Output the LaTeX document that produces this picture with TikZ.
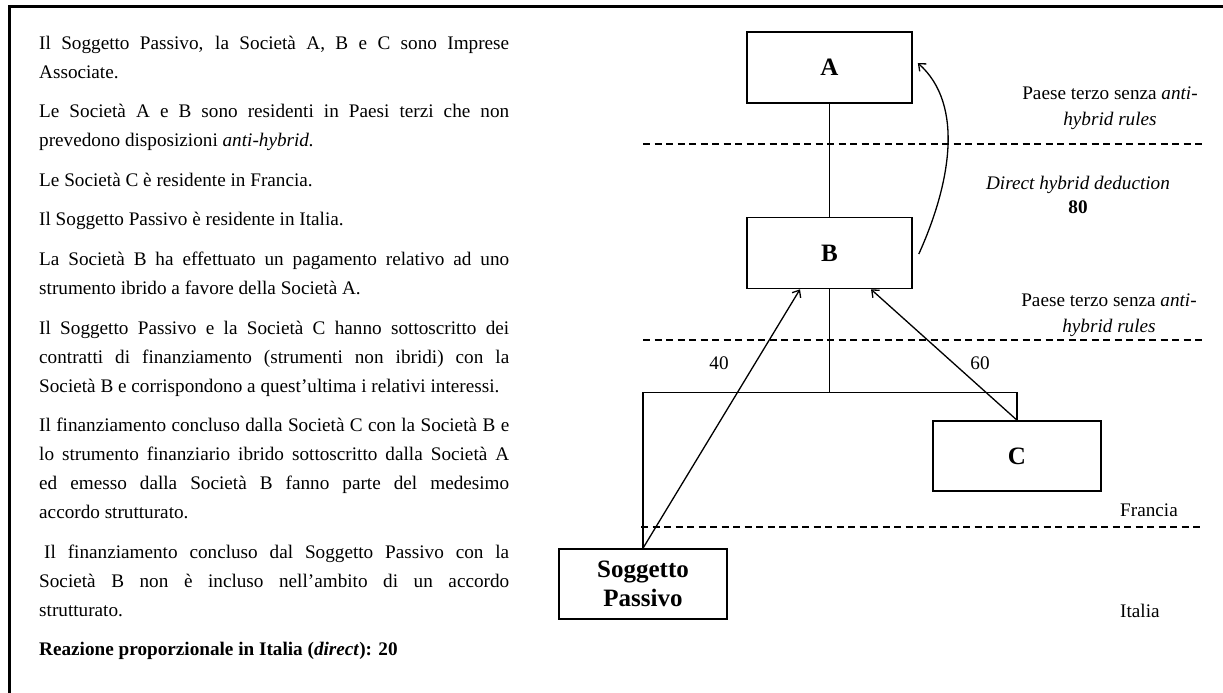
\documentclass[tikz,border=0pt]{standalone}
\usepackage{fontspec}
\setmainfont{Liberation Serif}
\usetikzlibrary{arrows.meta,calc}
\newcommand\jline[1]{\hbox to 470pt{#1}}
\newcommand\eline[1]{\hbox{#1}}
\begin{document}
\begin{tikzpicture}[x=1pt,y=-1pt,
  para/.style={anchor=base west, inner sep=0pt, font=\fontsize{19.2}{29}\selectfont},
  box/.style={draw, line width=1.6pt, inner sep=0pt, minimum width=165pt, minimum height=71pt, font=\fontsize{25}{29}\selectfont\bfseries, align=center},
  lbl/.style={inner sep=0pt, font=\fontsize{19.2}{26}\selectfont, align=center},
  conn/.style={line width=1.3pt},
  arr/.style={line width=1.3pt, -{Straight Barb[length=6pt,width=10pt]}},
  sep/.style={line width=1.4pt, dash pattern=on 7pt off 4.5pt},
]
\useasboundingbox (0,0) rectangle (1223,693);
\draw[line width=2.6pt] (9.7,693) -- (9.7,6.7) -- (1223,6.7);

% left text
\node[para] (p1) at (39,49) {\vtop{\jline{Il Soggetto Passivo, la Società A, B e C sono Imprese}\eline{Associate.}}};
\node[para] (p2) at (39,117.6) {\vtop{\jline{Le Società A e B sono residenti in Paesi terzi che non}\eline{prevedono disposizioni \textit{anti-hybrid.}}}};
\node[para] (p3) at (39,186.2) {\vtop{\eline{Le Società C è residente in Francia.}}};
\node[para] (p4) at (39,225.8) {\vtop{\eline{Il Soggetto Passivo è residente in Italia.}}};
\node[para] (p5) at (39,265.4) {\vtop{\jline{La Società B ha effettuato un pagamento relativo ad uno}\eline{strumento ibrido a favore della Società A.}}};
\node[para] (p6) at (39,334) {\vtop{\jline{Il Soggetto Passivo e la Società C hanno sottoscritto dei}\jline{contratti di finanziamento (strumenti non ibridi) con la}\eline{Società B e corrispondono a quest’ultima i relativi interessi.}}};
\node[para] (p7) at (39,431.6) {\vtop{\jline{Il finanziamento concluso dalla Società C con la Società B e}\jline{lo strumento finanziario ibrido sottoscritto dalla Società A}\jline{ed emesso dalla Società B fanno parte del medesimo}\eline{accordo strutturato.}}};
\node[para] (p8) at (39,558.2) {\vtop{\jline{\kern5pt Il finanziamento concluso dal Soggetto Passivo con la}\jline{Società B non è incluso nell’ambito di un accordo}\eline{strutturato.}}};
\node[para] (p9) at (39,655.8) {\vtop{\eline{\bfseries Reazione proporzionale in Italia (\textit{direct}): 20}}};

% separators
\draw[sep] (643,144) -- (1205,144);
\draw[sep] (643,340) -- (1205,340);
\draw[sep] (641,527) -- (1203,527);

% boxes
\node[box] (A) at (829.5,67.5) {A};
\node[box] (B) at (829.5,253) {B};
\node[box, minimum width=168pt, minimum height=70pt] (C) at (1017,456) {C};
\node[box, minimum width=168pt, minimum height=70pt] (S) at (643,584) {Soggetto\\Passivo};

% connectors
\draw[conn] (A) -- (B);
\draw[conn] (B.south) -- ++(0,103) coordinate (j);
\draw[conn] (S.north) |- (j) -| (C.north);
\draw[arr] (S.north) -- ($(B.south)+(-29.5,0)$);
\draw[arr] (C.north) -- ($(B.south)+(41.5,0)$);
\draw[arr] ($(B.east)+(6,1)$) .. controls (950,185) and (965,105) .. ($(A.east)+(5,-4.5)$);

% labels
\node[lbl] (t1) at (1110,108) {Paese terzo senza \textit{anti-}\\\textit{hybrid rules}};
\node[lbl, font=\fontsize{19.2}{24}\selectfont] (t2) at (1078,195) {\textit{Direct hybrid deduction}\\\textbf{80}};
\node[lbl] (t3) at (1109,315) {Paese terzo senza \textit{anti-}\\\textit{hybrid rules}};
\node[lbl] (n40) at (719,363) {40};
\node[lbl] (n60) at (980,363) {60};
\node[lbl, anchor=west] (fr) at (1120,510) {Francia};
\node[lbl, anchor=west] (it) at (1120,611) {Italia};
\end{tikzpicture}
\end{document}
